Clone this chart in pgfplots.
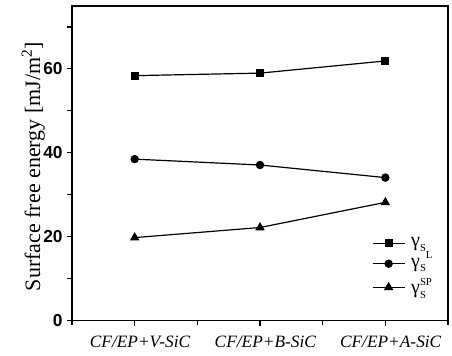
\documentclass[border=0pt]{standalone}
\usepackage{fontspec}
\setmainfont{Liberation Serif}
\newfontfamily\ticksans{Liberation Sans}
\usepackage{pgfplots}
\pgfplotsset{compat=1.18}
\begin{document}
\begin{tikzpicture}
\begin{axis}[
  scale only axis,
  width=282pt, height=236pt,
  xmin=0.5, xmax=3.5, ymin=0, ymax=75,
  axis line style={line width=0.9pt},
  xtick={1,2,3},
  xticklabels={CF/EP+V-SiC, CF/EP+B-SiC, CF/EP+A-SiC},
  minor xtick={0.5,1.5,2.5,3.5},
  ytick={0,20,40,60},
  minor ytick={10,30,50,70},
  xtick pos=bottom, ytick pos=left,
  tick align=outside,
  major tick length=4pt, minor tick length=3.5pt,
  every tick/.style={black, line width=0.8pt},
  x tick label style={font=\fontsize{13}{15}\selectfont\itshape, yshift=-4pt, xshift=4pt},
  y tick label style={font=\fontsize{13}{15}\selectfont\ticksans\bfseries, xshift=0.5pt},
  /pgf/number format/assume math mode=true,
  ylabel={Surface free energy [mJ/m\textsuperscript{2}]},
  ylabel style={font=\fontsize{16.5}{18}\selectfont, at={(axis description cs:0,0.49)}, anchor=center, rotate=0, yshift=29pt},
  legend style={draw=none, fill=none, at={(rel axis cs:0.97,0.065)}, anchor=south east,
    font=\fontsize{15}{17}\selectfont, row sep=3pt, inner sep=1pt},
  legend cell align=left,
  legend image code/.code={\draw[mark repeat=2,mark phase=2] plot coordinates {(0cm,0cm) (0.42cm,0cm) (0.84cm,0cm)};},
]
\addplot[black, line width=0.9pt, mark=square*, mark size=2.5pt] coordinates {(1,58.4) (2,59.0) (3,61.9)};
\addlegendentry{\,γ\raisebox{-0.5ex}{\footnotesize S}\raisebox{-1.3ex}{\footnotesize L}}
\addplot[black, line width=0.9pt, mark=*, mark size=2.7pt] coordinates {(1,38.5) (2,37.1) (3,34.1)};
\addlegendentry{\,γ\raisebox{-0.5ex}{\footnotesize S}}
\addplot[black, line width=0.9pt, mark=triangle*, mark size=3.2pt] coordinates {(1,19.8) (2,22.2) (3,28.2)};
\addlegendentry{\,γ\rlap{\raisebox{-0.5ex}{\footnotesize S}}\raisebox{0.9ex}{\footnotesize SP}}
\end{axis}
\pgfresetboundingbox
\path ([shift={(-54pt,-26pt)}]current axis.south west) rectangle ([shift={(3pt,4.5pt)}]current axis.north east);
\end{tikzpicture}
\end{document}
